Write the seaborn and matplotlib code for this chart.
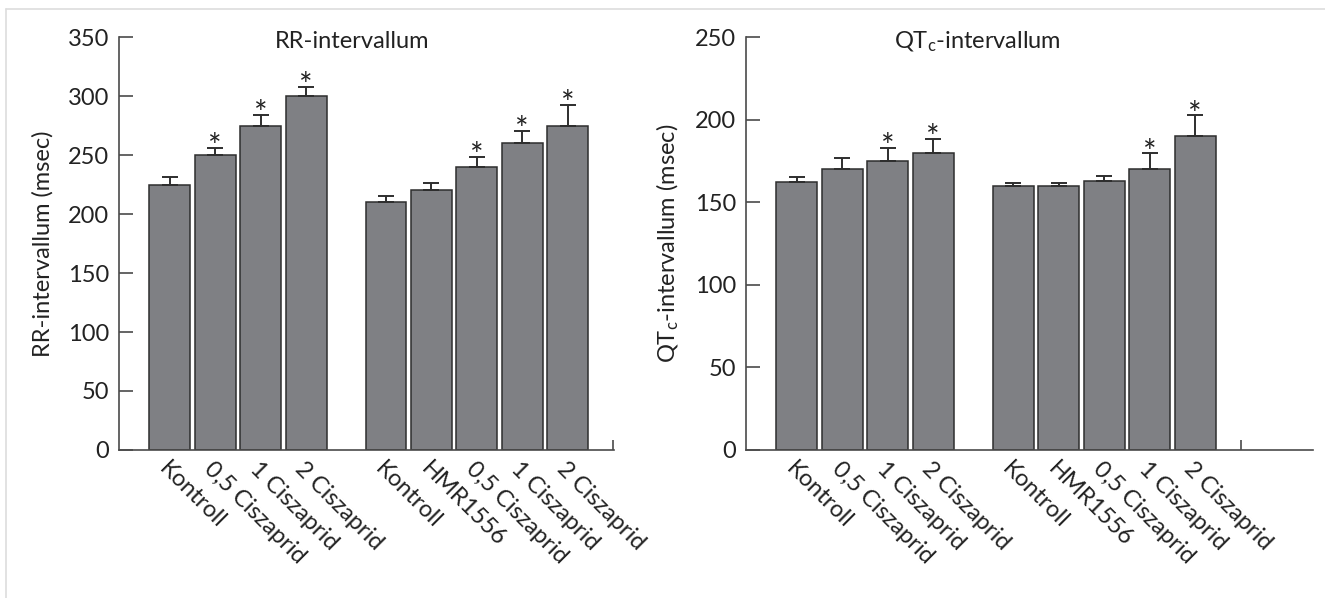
import numpy as np
import pandas as pd
import matplotlib
matplotlib.use("Agg")
import matplotlib.pyplot as plt
from matplotlib.lines import Line2D
import seaborn as sns

# data (msec)
labels_ctrl = ["Kontroll", "0,5 Ciszaprid", "1 Ciszaprid", "2 Ciszaprid"]
labels_hmr = ["Kontroll", "HMR1556", "0,5 Ciszaprid", "1 Ciszaprid", "2 Ciszaprid"]

rr_ctrl = [225, 250, 275, 300]
rr_ctrl_err = [6, 6, 9, 8]
rr_hmr = [210, 220, 240, 260, 275]
rr_hmr_err = [5, 6, 8, 10, 17]
rr_ctrl_sig = [False, True, True, True]
rr_hmr_sig = [False, False, True, True, True]

qt_ctrl = [162, 170, 175, 180]
qt_ctrl_err = [3, 7, 8, 8.5]
qt_hmr = [160, 160, 163, 170, 190]
qt_hmr_err = [1.5, 1.5, 3, 9.5, 12.5]
qt_ctrl_sig = [False, False, True, True]
qt_hmr_sig = [False, False, False, True, True]

sns.set_theme(style="white")
plt.rcParams["font.family"] = ["Lato", "DejaVu Sans"]
plt.rcParams["mathtext.fontset"] = "custom"
plt.rcParams["mathtext.rm"] = "Lato"
plt.rcParams["mathtext.it"] = "Lato:italic"

BAR = "#7f8084"
EDGE = "#2e2e2e"
AXC = "#4a4a4a"
FS = 17
GAP = 0.76


def make_df(ctrl, hmr, ctrl_err, hmr_err, ctrl_sig, hmr_sig):
    pos = list(np.arange(len(ctrl))) + list(np.arange(len(hmr)) + len(ctrl) + GAP)
    return pd.DataFrame({
        "pos": pos,
        "value": ctrl + hmr,
        "err": ctrl_err + hmr_err,
        "sig": ctrl_sig + hmr_sig,
        "label": labels_ctrl + labels_hmr,
    })


def panel(ax, df, ymax, xmax, title, title_x, ylabel, ylabel_x):
    sns.barplot(data=df, x="pos", y="value", native_scale=True, color=BAR,
                saturation=1, edgecolor=EDGE, linewidth=1.1, width=0.9,
                errorbar=None, ax=ax)
    ax.errorbar(df["pos"], df["value"], yerr=[np.zeros(len(df)), df["err"]],
                fmt="none", ecolor=EDGE, elinewidth=1.4, capsize=5.5, capthick=1.4)
    for _, r in df[df["sig"]].iterrows():
        ax.annotate("*", xy=(r["pos"], r["value"] + r["err"]), xytext=(0, -6.5),
                    textcoords="offset points", ha="center", va="baseline",
                    fontsize=23, color="#222222")
    ax.set_xlim(-1.12, xmax)
    ax.set_ylim(0, ymax)
    ax.set_yticks(np.arange(0, ymax + 1, 50))
    ax.set_xticks(df["pos"])
    ax.set_xticklabels(df["label"], rotation=-45, ha="left", va="top",
                       rotation_mode="anchor")
    ax.set_xticks([9.76], minor=True)
    ax.tick_params(axis="x", which="major", length=0, pad=6, labelsize=FS,
                   colors="#222222")
    ax.tick_params(axis="x", which="minor", direction="in", length=7.5,
                   width=1.2, color=AXC, bottom=True)
    ax.tick_params(axis="y", direction="in", length=9.8, width=1.2, color=AXC,
                   pad=7, labelsize=FS, labelcolor="#222222", left=True)
    for s in ["top", "right"]:
        ax.spines[s].set_visible(False)
    for s in ["left", "bottom"]:
        ax.spines[s].set_color(AXC)
        ax.spines[s].set_linewidth(1.2)
    ax.set_xlabel("")
    ax.set_ylabel(ylabel, fontsize=FS, color="#222222")
    ax.yaxis.set_label_coords(ylabel_x, 0.5)
    ax.text(title_x, 0.9726, title, transform=ax.transAxes, ha="center",
            va="baseline", fontsize=FS, color="#222222")


fig = plt.figure(figsize=(13.25, 5.98), dpi=100)
ax1 = fig.add_axes([0.0898, 0.2475, 0.3736, 0.6906])
ax2 = fig.add_axes([0.5630, 0.2475, 0.4279, 0.6906])

df_rr = make_df(rr_ctrl, rr_hmr, rr_ctrl_err, rr_hmr_err, rr_ctrl_sig, rr_hmr_sig)
df_qt = make_df(qt_ctrl, qt_hmr, qt_ctrl_err, qt_hmr_err, qt_ctrl_sig, qt_hmr_sig)

panel(ax1, df_rr, 350, 9.78, "RR-intervallum", 0.471,
      "RR-intervallum (msec)", -0.133)
panel(ax2, df_qt, 250, 11.35, r"QT$_\mathrm{c}$-intervallum", 0.409,
      r"QT$_\mathrm{c}$-intervallum (msec)", -0.115)

# light frame round the figure, as in the source
top = 1 - 9.3 / 598
left = 6 / 1325
fig.add_artist(Line2D([left, 1], [top, top], transform=fig.transFigure,
                      color="#dddddd", linewidth=1.2))
fig.add_artist(Line2D([left, left], [0, top], transform=fig.transFigure,
                      color="#dddddd", linewidth=1.2))

fig.savefig("out.png", dpi=100)
